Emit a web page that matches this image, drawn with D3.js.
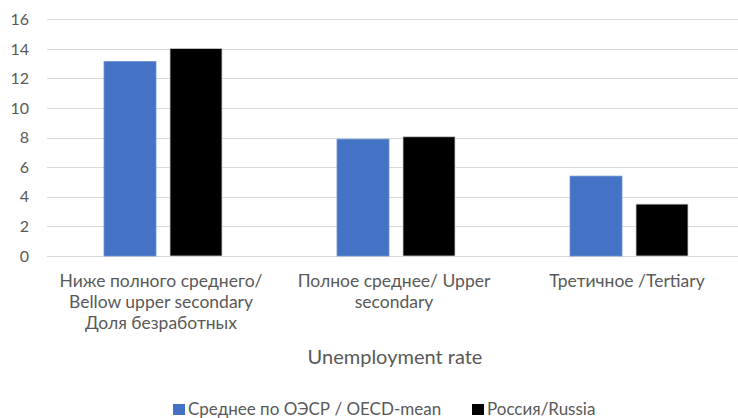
<!DOCTYPE html>
<html><head><meta charset="utf-8">
<script src="https://cdn.jsdelivr.net/npm/d3@7"></script>
<style>body{margin:0;background:#fff}svg{display:block}text{font-family:Lato,"Open Sans",sans-serif;fill:#595959}</style>
</head><body><svg id="c" width="738" height="418"></svg>
<script>
const categories = [
  ["Ниже полного среднего/", "Bellow upper secondary", "Доля безработных"],
  ["Полное среднее/ Upper", "secondary"],
  ["Третичное /Tertiary"]
];
const seriesNames = ["Среднее по ОЭСР / OECD-mean", "Россия/Russia"];
const oecd = [13.15, 7.9, 5.4];
const russia = [14.03, 8.06, 3.51];
const yTicks = [0, 2, 4, 6, 8, 10, 12, 14, 16];
const axisTitle = "Unemployment rate";
const colors = ["#4472C4", "#000000"];

const svg = d3.select("#c");
const idx = d3.range(categories.length);
const y = d3.scaleLinear().domain([0, 16]).range([256, 19.3]);
const x0 = d3.scaleBand().domain(idx).range([46.5, 745.5]);
const x1 = d3.scaleBand().domain([0, 1]).range([0, 118]).paddingInner(14/66);

// gridlines
svg.append("g").selectAll("line").data(yTicks).join("line")
  .attr("x1", 47).attr("x2", 738)
  .attr("y1", d => Math.round(y(d)) + 0.5).attr("y2", d => Math.round(y(d)) + 0.5)
  .attr("stroke", "#d9d9d9").attr("stroke-width", 1.2);

// y axis labels
const ya = svg.append("g").attr("transform", "translate(29,0)")
  .call(d3.axisLeft(y).tickValues(yTicks).tickSize(0).tickPadding(0));
ya.select(".domain").remove();
ya.selectAll("text").attr("font-size", 16).attr("fill", "#595959").style("font-family", "Lato, sans-serif");

// bars
const series = [oecd, russia];
const g = svg.append("g");
idx.forEach(i => {
  const start = x0(i) + (x0.bandwidth() - 118) / 2;
  series.forEach((s, k) => {
    g.append("rect")
      .attr("x", start + x1(k)).attr("width", x1.bandwidth())
      .attr("y", y(s[i])).attr("height", y(0) - y(s[i]))
      .attr("fill", colors[k])
      .attr("stroke", k === 0 ? "#6f93d3" : "#d0d0d0").attr("stroke-width", 0.8);
  });
});

// category labels
idx.forEach(i => {
  const t = svg.append("text").attr("text-anchor", "middle").attr("font-size", 17.5);
  categories[i].forEach((line, j) => {
    t.append("tspan").attr("x", x0(i) + x0.bandwidth() / 2 - 2).attr("y", 287 + j * 21).text(line);
  });
});

// axis title
svg.append("text").attr("x", 395).attr("y", 364).attr("text-anchor", "middle")
  .attr("font-size", 20).text(axisTitle);

// legend
const leg = svg.append("g");
const legX = [173, 472];
seriesNames.forEach((n, k) => {
  leg.append("rect").attr("x", legX[k]).attr("y", 404).attr("width", 12).attr("height", 11).attr("fill", colors[k]);
  leg.append("text").attr("x", legX[k] + 15).attr("y", 415).attr("font-size", 17).text(n);
});
</script></body></html>
